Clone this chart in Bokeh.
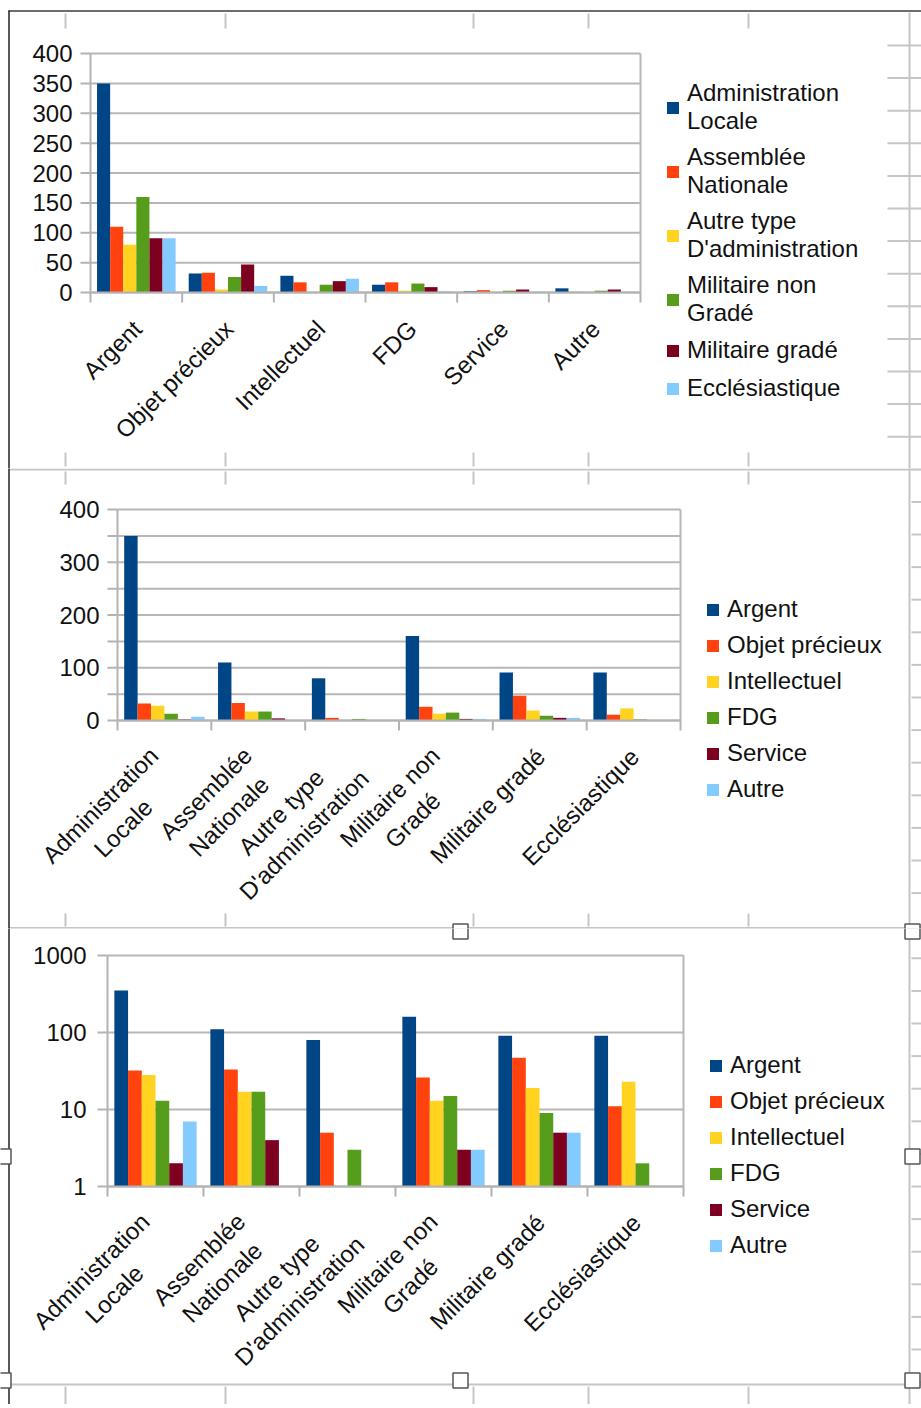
import math
from bokeh.plotting import figure
from bokeh.models import Range1d, Legend, LegendItem, ColumnDataSource
from bokeh.core.properties import value
from bokeh.embed import file_html
from bokeh.resources import INLINE

# ---------------- data ----------------
groups = ["Administration\nLocale", "Assemblée\nNationale", "Autre type\nD'administration",
          "Militaire non\nGradé", "Militaire gradé", "Ecclésiastique"]
types = ["Argent", "Objet précieux", "Intellectuel", "FDG", "Service", "Autre"]

# values for each group, in the order of `types`
administration_locale = [350, 32, 28, 13, 2, 7]
assemblee_nationale = [110, 33, 17, 17, 4, 1]
autre_type_administration = [80, 5, 1, 3, 1, 1]
militaire_non_grade = [160, 26, 13, 15, 3, 3]
militaire_grade = [91, 47, 19, 9, 5, 5]
ecclesiastique = [91, 11, 23, 2, 1, 1]

rows = [administration_locale, assemblee_nationale, autre_type_administration,
        militaire_non_grade, militaire_grade, ecclesiastique]

ticks_1 = [0, 50, 100, 150, 200, 250, 300, 350, 400]
ticks_2 = [0, 100, 200, 300, 400]
minor_2 = [50, 150, 250, 350]
ticks_3 = [1, 10, 100, 1000]

colors = ["#004586", "#ff420e", "#ffd320", "#579d1c", "#7e0021", "#83caff"]

FONT = "Liberation Sans"
FS = 24
GRID = "#b7b7b7"
AXIS = "#b3b3b3"
SHEET = "#c6c6c6"
TXT = "#111111"
W = 921

# approximate Liberation Sans advance widths (per 1000 em) for label layout
_CW = {" ": 278, "'": 191, "A": 667, "D": 722, "E": 667, "F": 611, "G": 778, "I": 278,
       "L": 556, "M": 833, "N": 722, "O": 778, "S": 667,
       "a": 556, "b": 556, "c": 500, "d": 556, "e": 556, "é": 556, "g": 556, "i": 222,
       "j": 222, "l": 222, "m": 833, "n": 556, "o": 556, "p": 556, "q": 556, "r": 333,
       "s": 500, "t": 278, "u": 556, "v": 500, "x": 500, "y": 500}


def text_w(s):
    return max(sum(_CW.get(c, 556) for c in line) for line in s.split("\n")) * FS / 1000


def make_chart(cat_labels, series_labels, series_values, page_top, fig_h, L, T, B, R,
               y_min, y_max, y_ticks, y_minor, log, legend_xy, legend_spacing, y_standoff):
    n = len(cat_labels)
    m = len(series_labels)
    pxu = (R - L) / n

    def X(px):
        return 0.5 + (px - L) / pxu

    if log:
        pyd = (B - T) / math.log10(y_max / y_min)

        def Y(py):
            return y_min * 10 ** ((B - py) / pyd)
    else:
        pyu = (B - T) / (y_max - y_min)

        def Y(py):
            return y_min + (B - py) / pyu

    def YP(page_y):
        return Y(page_y - page_top)

    p = figure(width=W, height=fig_h, output_backend="svg", toolbar_location=None,
               x_range=Range1d(X(0), X(W)), y_range=Range1d(Y(fig_h), Y(0)),
               y_axis_type="log" if log else "linear",
               x_axis_location=None, y_axis_location=None,
               min_border_left=0, min_border_right=0,
               min_border_top=0, min_border_bottom=0)
    p.min_border = 0
    p.background_fill_color = "white"
    p.border_fill_color = "white"
    p.outline_line_color = None
    p.xgrid.visible = False
    p.ygrid.visible = False

    # ---- spreadsheet background (sheet grid and chart selection) ----
    sheet_h = [(8, 921, 10.5, "#6e6e6e"), (8, 921, 469, SHEET), (8, 921, 927.5, SHEET),
               (8, 921, 1384, SHEET)]
    p.segment(x0=[X(a) for a, b, y, c in sheet_h], x1=[X(b) for a, b, y, c in sheet_h],
              y0=[YP(y) for a, b, y, c in sheet_h], y1=[YP(y) for a, b, y, c in sheet_h],
              line_color=[c for a, b, y, c in sheet_h], line_width=2)
    p.segment(x0=[X(8.5)], x1=[X(8.5)], y0=[YP(10)], y1=[YP(1408)],
              line_color="#222222", line_width=1.5)
    p.segment(x0=[X(909)], x1=[X(909)], y0=[YP(12)], y1=[YP(1408)],
              line_color=SHEET, line_width=2)
    row_y = [45 + 32.6 * k for k in range(42)]
    p.segment(x0=[X(887 if y < 460 else 911) for y in row_y], x1=[X(921)] * len(row_y),
              y0=[YP(y) for y in row_y], y1=[YP(y) for y in row_y],
              line_color=SHEET, line_width=2)
    col_x = [65, 225, 473, 588, 748]
    for yy0, yy1 in [(13, 28), (452, 466), (471, 484), (913, 926), (1386, 1408)]:
        p.segment(x0=[X(x) for x in col_x], x1=[X(x) for x in col_x],
                  y0=[YP(yy0)] * len(col_x), y1=[YP(yy1)] * len(col_x),
                  line_color=SHEET, line_width=2)
    handles = [(460, 931), (912, 931), (912, 1156), (460, 1380), (912, 1380),
               (3, 1156), (3, 1380)]
    p.rect(x=[X(a) for a, b in handles], y=[YP(b) for a, b in handles],
           width=15, height=15, width_units="screen", height_units="screen",
           fill_color="white", line_color="#555555", line_width=1.5)

    # ---- horizontal grid lines and right border of the plot area ----
    grid_vals = sorted(y_ticks + y_minor)
    p.segment(x0=[0.5] * len(grid_vals), x1=[n + 0.5] * len(grid_vals),
              y0=grid_vals, y1=grid_vals, line_color=GRID, line_width=2)
    p.segment(x0=[n + 0.5], x1=[n + 0.5], y0=[y_min], y1=[y_max],
              line_color=GRID, line_width=2)

    # ---- bars ----
    renderers = []
    for j, (name, vals) in enumerate(zip(series_labels, series_values)):
        xs = [i + 1 + (j - (m - 1) / 2) / (m + 1) for i in range(n)]
        r = p.vbar(x=xs, top=vals, bottom=y_min, width=1 / (m + 1),
                   fill_color=colors[j], line_color=None)
        renderers.append(r)

    # ---- category axis: line, boundary ticks, rotated labels ----
    p.segment(x0=[0.5], x1=[n + 0.5], y0=[y_min], y1=[y_min], line_color=AXIS, line_width=2)
    bx = [i + 0.5 for i in range(n + 1)]
    p.segment(x0=bx, x1=bx, y0=[y_min] * len(bx), y1=[Y(B + 10)] * len(bx),
              line_color=AXIS, line_width=2)
    c = math.cos(math.pi / 4)
    xo, yo = [], []
    for lab in cat_labels:
        w = text_w(lab)
        h = len(lab.split("\n")) * 1.2 * FS
        xo.append(1 - c * w / 2)
        yo.append(22 + c * h / 2 + c * w / 2)
    src = ColumnDataSource(dict(x=[i + 1 for i in range(n)], y=[y_min] * n,
                                text=cat_labels, xo=xo, yo=yo))
    p.text(x="x", y="y", text="text", source=src, x_offset="xo", y_offset="yo",
           angle=math.pi / 4, text_align="center", text_baseline="middle",
           text_font=value(FONT), text_font_size=f"{FS}px", text_color=TXT,
           text_line_height=1.2)

    # ---- value axis: line, ticks, labels ----
    p.segment(x0=[0.5], x1=[0.5], y0=[y_min], y1=[y_max], line_color=AXIS, line_width=2)
    all_ticks = sorted(y_ticks + y_minor)
    p.segment(x0=[X(L - 10)] * len(all_ticks), x1=[0.5] * len(all_ticks),
              y0=all_ticks, y1=all_ticks, line_color=AXIS, line_width=2)
    p.text(x=[0.5] * len(y_ticks), y=y_ticks, text=[str(t) for t in y_ticks],
           x_offset=-(10 + y_standoff), text_align="right", text_baseline="middle",
           text_font=value(FONT), text_font_size=f"{FS}px", text_color=TXT)

    # ---- legend ----
    legend = Legend(items=[LegendItem(label=s, renderers=[r])
                           for s, r in zip(series_labels, renderers)],
                    location=legend_xy)
    legend.label_text_font = FONT
    legend.label_text_font_size = f"{FS}px"
    legend.label_text_color = TXT
    legend.glyph_width = 15
    legend.glyph_height = 15
    legend.label_height = 30
    legend.label_standoff = 7
    legend.spacing = legend_spacing
    legend.padding = 0
    legend.margin = 0
    legend.border_line_color = None
    legend.background_fill_alpha = 0
    p.add_layout(legend)
    return p


# chart 1: categories = types, series = groups
s1 = [row for row in rows]
p1 = make_chart(types, groups, s1, 0, 468, 90, 53, 292, 640,
                0, 400, ticks_1, [], False, (665, 65), 8, 8)

# charts 2 and 3: categories = groups, series = types
s2 = [[row[j] for row in rows] for j in range(len(types))]
p2 = make_chart(groups, types, s2, 468, 460, 117, 41, 252, 680,
                0, 400, ticks_2, minor_2, False, (705, 124), 6, 8)
p3 = make_chart(groups, types, s2, 928, 476, 107, 27, 258, 683,
                1, 1000, ticks_3, [], True, (708, 144), 6, 11)

open("out.html", "w").write(file_html([p1, p2, p3], INLINE))
